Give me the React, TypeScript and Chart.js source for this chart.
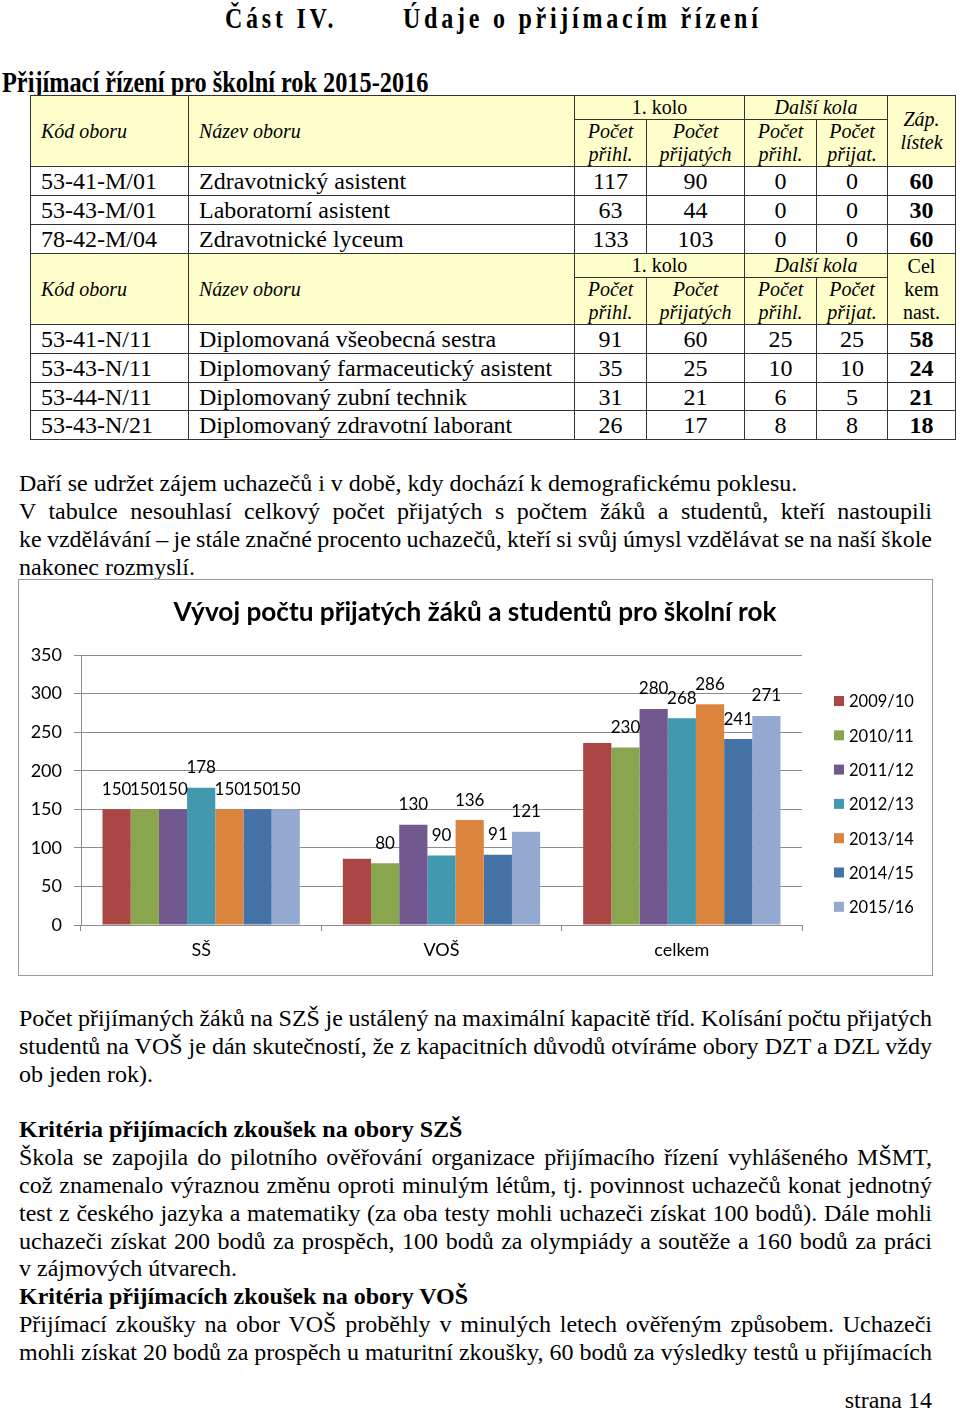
import React, { useEffect, useRef } from 'react';
import { Chart, registerables } from 'chart.js';

Chart.register(...registerables);

// ---------- chart data ----------
const categories = ['SŠ', 'VOŠ', 'celkem'];
const seriesNames = ['2009/10', '2010/11', '2011/12', '2012/13', '2013/14', '2014/15', '2015/16'];
const s200910 = [150, 86, 236];
const s201011 = [150, 80, 230];
const s201112 = [150, 130, 280];
const s201213 = [178, 90, 268];
const s201314 = [150, 136, 286];
const s201415 = [150, 91, 241];
const s201516 = [150, 121, 271];
const seriesValues = [s200910, s201011, s201112, s201213, s201314, s201415, s201516];
const seriesColors = ['#AA4643', '#89A54E', '#71588F', '#4198AF', '#DB843D', '#4572A7', '#93A9CF'];
// value labels that are not shown in the original (series index, category index)
const hiddenLabels = [
  [0, 1],
  [0, 2],
];
const yTickValues = [0, 50, 100, 150, 200, 250, 300, 350];
const chartTitle = 'Vývoj počtu přijatých žáků a studentů pro školní rok';

// ---------- table data ----------
const ssRows = [
  ['53-41-M/01', 'Zdravotnický asistent', '117', '90', '0', '0', '60'],
  ['53-43-M/01', 'Laboratorní asistent', '63', '44', '0', '0', '30'],
  ['78-42-M/04', 'Zdravotnické lyceum', '133', '103', '0', '0', '60'],
];
const vosRows = [
  ['53-41-N/11', 'Diplomovaná všeobecná sestra', '91', '60', '25', '25', '58'],
  ['53-43-N/11', 'Diplomovaný farmaceutický asistent', '35', '25', '10', '10', '24'],
  ['53-44-N/11', 'Diplomovaný zubní technik', '31', '21', '6', '5', '21'],
  ['53-43-N/21', 'Diplomovaný zdravotní laborant', '26', '17', '8', '8', '18'],
];
const ssRowHeights = [29, 29, 29];
const vosRowHeights = [29, 29, 28, 29];

const GRID = '#8c8c8c';
const FONT = 'Lato, "Noto Sans", sans-serif';

const extrasPlugin = {
  id: 'extras',
  afterDatasetsDraw(chart: any) {
    const ctx = chart.ctx;
    ctx.save();
    ctx.font = `17px ${FONT}`;
    ctx.fillStyle = '#000';
    ctx.textAlign = 'center';
    ctx.textBaseline = 'middle';
    chart.data.datasets.forEach((ds: any, i: number) => {
      const meta = chart.getDatasetMeta(i);
      meta.data.forEach((el: any, j: number) => {
        if (hiddenLabels.some(([a, b]) => a === i && b === j)) return;
        ctx.fillText(String(ds.data[j]), el.x, el.y - 20);
      });
    });
    ctx.restore();
  },
  afterDraw(chart: any) {
    const ctx = chart.ctx;
    ctx.save();
    // title
    ctx.font = `bold 24px ${FONT}`;
    const w = ctx.measureText(chartTitle).width;
    const size = (24 * 603) / w;
    ctx.font = `bold ${size.toFixed(2)}px ${FONT}`;
    ctx.fillStyle = '#000';
    ctx.textAlign = 'center';
    ctx.textBaseline = 'middle';
    ctx.fillText(chartTitle, 456, 33);
    // legend
    ctx.font = `16.5px ${FONT}`;
    ctx.textAlign = 'left';
    chart.data.datasets.forEach((ds: any, i: number) => {
      const y = 121 + i * 34.3;
      ctx.fillStyle = ds.backgroundColor;
      ctx.fillRect(815, y - 5, 10, 10);
      ctx.fillStyle = '#000';
      ctx.fillText(ds.label, 830, y + 1);
    });
    ctx.restore();
  },
};

function BarChart() {
  const ref = useRef<HTMLCanvasElement | null>(null);
  useEffect(() => {
    let chart: Chart | null = null;
    let cancelled = false;
    const make = () => {
      if (cancelled || !ref.current) return;
      chart = new Chart(ref.current, {
        type: 'bar',
        data: {
          labels: categories,
          datasets: seriesNames.map((name, i) => ({
            label: name,
            data: seriesValues[i],
            backgroundColor: seriesColors[i],
            borderWidth: 0,
            categoryPercentage: 0.821,
            barPercentage: 1,
          })),
        },
        options: {
          responsive: false,
          animation: false,
          layout: { padding: { top: 75, right: 130, left: 0, bottom: 0 } },
          plugins: {
            legend: { display: false },
            title: { display: false },
            tooltip: { enabled: false },
          },
          scales: {
            x: {
              grid: { display: true, drawOnChartArea: false, drawTicks: true, tickLength: 6, color: GRID, offset: true },
              border: { display: true, color: GRID },
              ticks: { font: { family: FONT, size: 18 }, color: '#000', padding: 8, maxRotation: 0 },
              afterFit: (s: any) => {
                s.height = 50;
              },
            },
            y: {
              min: 0,
              max: 350,
              afterBuildTicks: (s: any) => {
                s.ticks = yTickValues.map((v) => ({ value: v }));
              },
              ticks: { font: { family: FONT, size: 18 }, color: '#000', padding: 12 },
              grid: { color: GRID, tickLength: 7, drawTicks: true },
              border: { display: true, color: GRID },
              afterFit: (s: any) => {
                s.width = 62;
              },
            },
          },
        } as any,
        plugins: [extrasPlugin],
      });
    };
    if ((document as any).fonts && (document as any).fonts.load) {
      Promise.all([
        (document as any).fonts.load(`17px Lato`),
        (document as any).fonts.load(`bold 24px Lato`),
      ])
        .catch(() => null)
        .then(make);
    } else {
      make();
    }
    return () => {
      cancelled = true;
      if (chart) chart.destroy();
    };
  }, []);
  return (
    <div
      style={{
        position: 'absolute',
        left: 18,
        top: 579,
        width: 915,
        height: 397,
        border: '1px solid #9a9a9a',
        boxSizing: 'border-box',
        background: '#fff',
      }}
    >
      <canvas ref={ref} width={913} height={395} style={{ display: 'block', width: 913, height: 395 }} />
    </div>
  );
}

const serif = '"Liberation Serif", "Times New Roman", serif';
const B = '1px solid #333';
const hdr: React.CSSProperties = {
  border: B,
  background: '#FFFFCC',
  fontSize: 20,
  lineHeight: '23px',
  padding: 0,
  verticalAlign: 'middle',
  textAlign: 'center',
  overflow: 'hidden',
};
const hdrLeft: React.CSSProperties = { ...hdr, textAlign: 'left', paddingLeft: 10, fontStyle: 'italic' };
const cell: React.CSSProperties = {
  border: B,
  fontSize: 24,
  lineHeight: '24px',
  padding: 0,
  verticalAlign: 'middle',
  textAlign: 'center',
  whiteSpace: 'nowrap',
  overflow: 'hidden',
};
const cellLeft: React.CSSProperties = { ...cell, textAlign: 'left', paddingLeft: 10 };

function HeaderRows({ last, top }: { last: React.ReactNode; top: number }) {
  return (
    <>
      <tr style={{ height: top }}>
        <td rowSpan={2} style={hdrLeft}>Kód oboru</td>
        <td rowSpan={2} style={hdrLeft}>Název oboru</td>
        <td colSpan={2} style={hdr}>1. kolo</td>
        <td colSpan={2} style={{ ...hdr, fontStyle: 'italic' }}>Další kola</td>
        {last}
      </tr>
      <tr style={{ height: 46 }}>
        <td style={{ ...hdr, fontStyle: 'italic' }}>Počet<br />přihl.</td>
        <td style={{ ...hdr, fontStyle: 'italic' }}>Počet<br />přijatých</td>
        <td style={{ ...hdr, fontStyle: 'italic' }}>Počet<br />přihl.</td>
        <td style={{ ...hdr, fontStyle: 'italic' }}>Počet<br />přijat.</td>
      </tr>
    </>
  );
}

function DataRows({ rows, heights }: { rows: string[][]; heights: number[] }) {
  return (
    <>
      {rows.map((r, i) => (
        <tr key={i} style={{ height: heights[i] }}>
          <td style={cellLeft}>{r[0]}</td>
          <td style={cellLeft}>{r[1]}</td>
          <td style={cell}>{r[2]}</td>
          <td style={cell}>{r[3]}</td>
          <td style={cell}>{r[4]}</td>
          <td style={cell}>{r[5]}</td>
          <td style={{ ...cell, fontWeight: 'bold' }}>{r[6]}</td>
        </tr>
      ))}
    </>
  );
}

const jLine: React.CSSProperties = {
  textAlign: 'justify',
  textAlignLast: 'justify' as any,
  whiteSpace: 'nowrap',
  wordSpacing: '-1.5px',
};
const lLine: React.CSSProperties = { textAlign: 'left', whiteSpace: 'nowrap' };

function TextBlock({ top, lines }: { top: number; lines: { t: string; j?: boolean; b?: boolean }[] }) {
  return (
    <div
      style={{
        position: 'absolute',
        left: 19,
        top,
        width: 913,
        fontFamily: serif,
        fontSize: 24,
        lineHeight: '27.9px',
        color: '#000',
      }}
    >
      {lines.map((l, i) => (
        <div key={i} style={{ ...(l.j ? jLine : lLine), fontWeight: l.b ? 'bold' : 'normal', height: 27.9 }}>
          {l.t}
        </div>
      ))}
    </div>
  );
}

export default function App() {
  return (
    <div style={{ position: 'absolute', left: 0, top: 0, width: 960, height: 1412, background: '#fff', fontFamily: serif, color: '#000', overflow: 'hidden' }}>
      {/* page heading */}
      <div
        style={{
          position: 'absolute',
          left: 225,
          top: 1,
          fontFamily: serif,
          fontWeight: 'bold',
          fontSize: 30,
          lineHeight: '34px',
          letterSpacing: 4.7,
          whiteSpace: 'nowrap',
          transform: 'scaleX(0.8)',
          transformOrigin: 'left top',
        }}
      >
        Část IV.
      </div>
      <div
        style={{
          position: 'absolute',
          left: 403,
          top: 1,
          fontFamily: serif,
          fontWeight: 'bold',
          fontSize: 30,
          lineHeight: '34px',
          letterSpacing: 4.7,
          whiteSpace: 'nowrap',
          transform: 'scaleX(0.8)',
          transformOrigin: 'left top',
        }}
      >
        Údaje o přijímacím řízení
      </div>
      <div
        style={{
          position: 'absolute',
          left: 2,
          top: 65,
          fontFamily: serif,
          fontWeight: 'bold',
          fontSize: 30,
          lineHeight: '34px',
          whiteSpace: 'nowrap',
          transform: 'scaleX(0.81)',
          transformOrigin: 'left top',
        }}
      >
        Přijímací řízení pro školní rok 2015-2016
      </div>

      {/* table */}
      <table
        style={{
          position: 'absolute',
          left: 30,
          top: 95,
          width: 925,
          borderCollapse: 'collapse',
          tableLayout: 'fixed',
          fontFamily: serif,
          color: '#000',
        }}
      >
        <colgroup>
          <col style={{ width: 158 }} />
          <col style={{ width: 386 }} />
          <col style={{ width: 72 }} />
          <col style={{ width: 98 }} />
          <col style={{ width: 72 }} />
          <col style={{ width: 71 }} />
          <col style={{ width: 68 }} />
        </colgroup>
        <tbody>
          <HeaderRows top={22} last={<td rowSpan={2} style={{ ...hdr, fontStyle: 'italic' }}>Záp.<br />lístek</td>} />
          <DataRows rows={ssRows} heights={ssRowHeights} />
          <HeaderRows top={23} last={<td rowSpan={2} style={hdr}>Cel<br />kem<br />nast.</td>} />
          <DataRows rows={vosRows} heights={vosRowHeights} />
        </tbody>
      </table>

      <TextBlock
        top={470}
        lines={[
          { t: 'Daří se udržet zájem uchazečů i v době, kdy dochází k demografickému poklesu.' },
          { t: 'V tabulce nesouhlasí celkový počet přijatých s počtem žáků a studentů, kteří nastoupili', j: true },
          { t: 'ke vzdělávání – je stále značné procento uchazečů, kteří si svůj úmysl vzdělávat se na naší škole', j: true },
          { t: 'nakonec rozmyslí.' },
        ]}
      />

      <BarChart />

      <TextBlock
        top={1005}
        lines={[
          { t: 'Počet přijímaných žáků na SZŠ je ustálený na maximální kapacitě tříd. Kolísání počtu přijatých', j: true },
          { t: 'studentů na VOŠ je dán skutečností, že z kapacitních důvodů otvíráme obory DZT a DZL vždy', j: true },
          { t: 'ob jeden rok).' },
        ]}
      />

      <TextBlock
        top={1116}
        lines={[
          { t: 'Kritéria přijímacích zkoušek na obory SZŠ', b: true },
          { t: 'Škola se zapojila do pilotního ověřování organizace přijímacího řízení vyhlášeného MŠMT,', j: true },
          { t: 'což znamenalo výraznou změnu oproti minulým létům, tj. povinnost uchazečů konat jednotný', j: true },
          { t: 'test z českého jazyka a matematiky (za oba testy mohli uchazeči získat 100 bodů). Dále mohli', j: true },
          { t: 'uchazeči získat 200 bodů za prospěch, 100 bodů za olympiády a soutěže a 160 bodů za práci', j: true },
          { t: 'v zájmových útvarech.' },
          { t: 'Kritéria přijímacích zkoušek na obory VOŠ', b: true },
          { t: 'Přijímací zkoušky na obor VOŠ proběhly v minulých letech ověřeným způsobem. Uchazeči', j: true },
          { t: 'mohli získat 20 bodů za prospěch u maturitní zkoušky, 60 bodů za výsledky testů u přijímacích', j: true },
        ]}
      />

      <div
        style={{
          position: 'absolute',
          right: 28,
          top: 1387,
          fontFamily: serif,
          fontSize: 24,
          lineHeight: '27.9px',
          whiteSpace: 'nowrap',
        }}
      >
        strana 14
      </div>
    </div>
  );
}
